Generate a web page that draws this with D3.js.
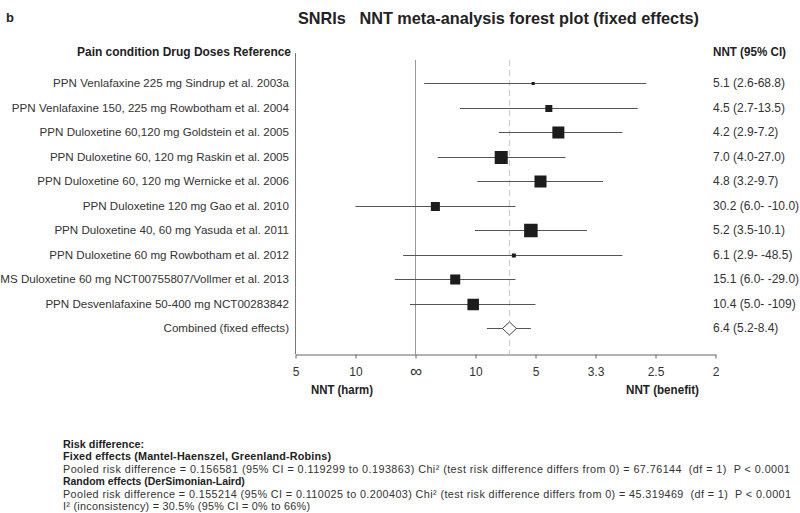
<!DOCTYPE html>
<html>
<head>
<meta charset="utf-8">
<script src="https://cdn.jsdelivr.net/npm/d3@7"></script>
<style>
  html, body { margin: 0; padding: 0; background: #fff; }
  svg text { font-family: "Liberation Sans", Arial, sans-serif; }
</style>
</head>
<body>
<svg id="chart" width="800" height="513"></svg>
<script>
// ---- data ----
const studies = [
  "PPN Venlafaxine 225 mg Sindrup et al. 2003a",
  "PPN Venlafaxine 150, 225 mg Rowbotham et al. 2004",
  "PPN Duloxetine 60,120 mg Goldstein et al. 2005",
  "PPN Duloxetine 60, 120 mg Raskin et al. 2005",
  "PPN Duloxetine 60, 120 mg Wernicke et al. 2006",
  "PPN Duloxetine 120 mg Gao et al. 2010",
  "PPN Duloxetine 40, 60 mg Yasuda et al. 2011",
  "PPN Duloxetine 60 mg Rowbotham et al. 2012",
  "MS Duloxetine 60 mg NCT00755807/Vollmer et al. 2013",
  "PPN Desvenlafaxine 50-400 mg NCT00283842"
];
const nntPoint = [5.1, 4.5, 4.2, 7.0, 4.8, 30.2, 5.2, 6.1, 15.1, 10.4];
const nntLower = [2.6, 2.7, 2.9, 4.0, 3.2, 6.0, 3.5, 2.9, 6.0, 5.0];
const nntUpper = [68.8, 13.5, 7.2, 27.0, 9.7, -10.0, 10.1, -48.5, -29.0, -109];
const weights  = [0.9, 4.6, 13.6, 16.0, 13.6, 7.7, 17.2, 1.5, 9.5, 12.5];
const ciLabels = ["5.1 (2.6-68.8)", "4.5 (2.7-13.5)", "4.2 (2.9-7.2)", "7.0 (4.0-27.0)",
  "4.8 (3.2-9.7)", "30.2 (6.0- -10.0)", "5.2 (3.5-10.1)", "6.1 (2.9- -48.5)",
  "15.1 (6.0- -29.0)", "10.4 (5.0- -109)"];
const combinedLabel = "Combined (fixed effects)";
const combinedNNT = [6.4, 5.2, 8.4];
const combinedText = "6.4 (5.2-8.4)";
const pooledRD = 0.156581;
const tickRD = [-0.2, -0.1, 0, 0.1, 0.2, 0.3, 0.4, 0.5];
const tickLabels = ["5", "10", "\u221E", "10", "5", "3.3", "2.5", "2"];
const footLines = [
  {t: "Risk difference:", b: true},
  {t: "Fixed effects (Mantel-Haenszel, Greenland-Robins)", b: true},
  {t: "Pooled risk difference = 0.156581 (95% CI = 0.119299 to 0.193863) Chi\u00B2 (test risk difference differs from 0) = 67.76144  (df = 1)  P < 0.0001", b: false},
  {t: "Random effects (DerSimonian-Laird)", b: true},
  {t: "Pooled risk difference = 0.155214 (95% CI = 0.110025 to 0.200403) Chi\u00B2 (test risk difference differs from 0) = 45.319469  (df = 1)  P < 0.0001", b: false},
  {t: "I\u00B2 (inconsistency) = 30.5% (95% CI = 0% to 66%)", b: false}
];
const footWidths = [81, 268, 727, 182, 728, 247];

// ---- layout ----
const svg = d3.select("#chart");
const rows = studies.concat([combinedLabel]);
const x = d3.scaleLinear().domain([-0.2, 0.5]).range([295.5, 715.5]);
const y = d3.scalePoint().domain(rows).range([83, 328]);
const size = d3.scaleSqrt().domain([0, d3.max(weights)]).range([0, 13.5]);
const rd = n => 1 / n;
const crisp = v => Math.round(v) + 0.5;
const axisY = 354;
const plotTop = 60;

// title
svg.append("text").attr("x", 6).attr("y", 22).attr("font-size", 13).attr("font-weight", "bold")
  .attr("fill", "#222").text("b");
svg.append("text").attr("x", 298).attr("y", 24).attr("font-size", 17).attr("font-weight", "bold")
  .attr("fill", "#222").style("white-space", "pre")
  .attr("textLength", 401).attr("lengthAdjust", "spacingAndGlyphs")
  .text("SNRIs   NNT meta-analysis forest plot (fixed effects)");

// headers
svg.append("text").attr("x", 77).attr("y", 56).attr("font-size", 12.5).attr("font-weight", "bold")
  .attr("fill", "#222").attr("textLength", 214).attr("lengthAdjust", "spacingAndGlyphs")
  .text("Pain condition Drug Doses Reference");
svg.append("text").attr("x", 713).attr("y", 56).attr("font-size", 12.5).attr("font-weight", "bold")
  .attr("fill", "#222").attr("textLength", 73).attr("lengthAdjust", "spacingAndGlyphs")
  .text("NNT (95% CI)");

// reference lines
svg.append("line").attr("x1", x(-0.2)).attr("x2", x(-0.2)).attr("y1", 53).attr("y2", axisY)
  .attr("stroke", "#777").attr("stroke-width", 1);
svg.append("line").attr("x1", x(0)).attr("x2", x(0)).attr("y1", plotTop).attr("y2", axisY)
  .attr("stroke", "#999").attr("stroke-width", 1);
svg.append("line").attr("x1", crisp(x(pooledRD))).attr("x2", crisp(x(pooledRD))).attr("y1", plotTop).attr("y2", axisY)
  .attr("stroke", "#d0d0d0").attr("stroke-width", 1.3).attr("stroke-dasharray", "6,4");

// study rows
const g = svg.append("g");
studies.forEach((s, i) => {
  const yy = Math.round(y(s));
  g.append("text").attr("x", 289).attr("y", yy + 4).attr("text-anchor", "end")
    .attr("font-size", 11.6).attr("fill", "#333").text(s);
  g.append("line").attr("x1", x(rd(nntUpper[i]))).attr("x2", x(rd(nntLower[i])))
    .attr("y1", yy + 0.5).attr("y2", yy + 0.5).attr("stroke", "#555").attr("stroke-width", 1);
  const sz = size(weights[i]);
  g.append("rect").attr("x", x(rd(nntPoint[i])) - sz / 2).attr("y", yy + 0.5 - sz / 2)
    .attr("width", sz).attr("height", sz).attr("fill", "#1c1c1c");
  g.append("text").attr("x", 713).attr("y", yy + 4).attr("font-size", 12)
    .attr("fill", "#333").text(ciLabels[i]);
});

// combined
{
  const yy = Math.round(y(combinedLabel));
  g.append("text").attr("x", 289).attr("y", yy + 4).attr("text-anchor", "end")
    .attr("font-size", 11.6).attr("fill", "#333").text(combinedLabel);
  g.append("line").attr("x1", x(rd(combinedNNT[2]))).attr("x2", x(rd(combinedNNT[1])))
    .attr("y1", yy + 0.5).attr("y2", yy + 0.5).attr("stroke", "#555").attr("stroke-width", 1);
  const cx = x(pooledRD), cy = yy + 0.5;
  g.append("path").attr("d", `M${cx - 7},${cy} L${cx},${cy - 6.5} L${cx + 7},${cy} L${cx},${cy + 6.5} Z`)
    .attr("fill", "#fff").attr("stroke", "#444").attr("stroke-width", 1);
  g.append("text").attr("x", 713).attr("y", yy + 4).attr("font-size", 12)
    .attr("fill", "#333").text(combinedText);
}

// axis
const axis = d3.axisBottom(x).tickValues(tickRD)
  .tickFormat((d, i) => tickLabels[i]).tickSize(4).tickSizeOuter(0).tickPadding(9);
const ag = svg.append("g").attr("transform", `translate(0,${axisY + 0.5})`).call(axis);
ag.select(".domain").attr("stroke", "#666");
ag.selectAll(".tick line").attr("stroke", "#666");
ag.selectAll(".tick text").attr("font-size", 12).attr("fill", "#333")
  .attr("font-family", "'Liberation Sans', Arial, sans-serif");
ag.selectAll(".tick text").filter((d, i) => i === 2).attr("font-size", 17).attr("dy", "0.55em");

svg.append("text").attr("x", 311).attr("y", 394).attr("font-size", 12.5).attr("font-weight", "bold")
  .attr("fill", "#222").attr("textLength", 62).attr("lengthAdjust", "spacingAndGlyphs").text("NNT (harm)");
svg.append("text").attr("x", 626).attr("y", 394).attr("font-size", 12.5).attr("font-weight", "bold")
  .attr("fill", "#222").attr("textLength", 73).attr("lengthAdjust", "spacingAndGlyphs").text("NNT (benefit)");

// footnote: font size fitted to the widths seen in the reference
footLines.forEach((l, i) => {
  const t = svg.append("text").attr("x", 63).attr("y", 447.5 + i * 12.5)
    .attr("font-size", 12).attr("font-weight", l.b ? "bold" : "normal")
    .attr("fill", l.b ? "#222" : "#333").style("white-space", "pre")
    .text(l.t);
  const w = t.node().getComputedTextLength();
  const fit = 12 * footWidths[i] / w;
  if (fit <= 10.8) {
    t.attr("font-size", fit.toFixed(2));
  } else {
    t.attr("font-size", 10.8).attr("textLength", footWidths[i]).attr("lengthAdjust", "spacing");
  }
});
</script>
</body>
</html>
